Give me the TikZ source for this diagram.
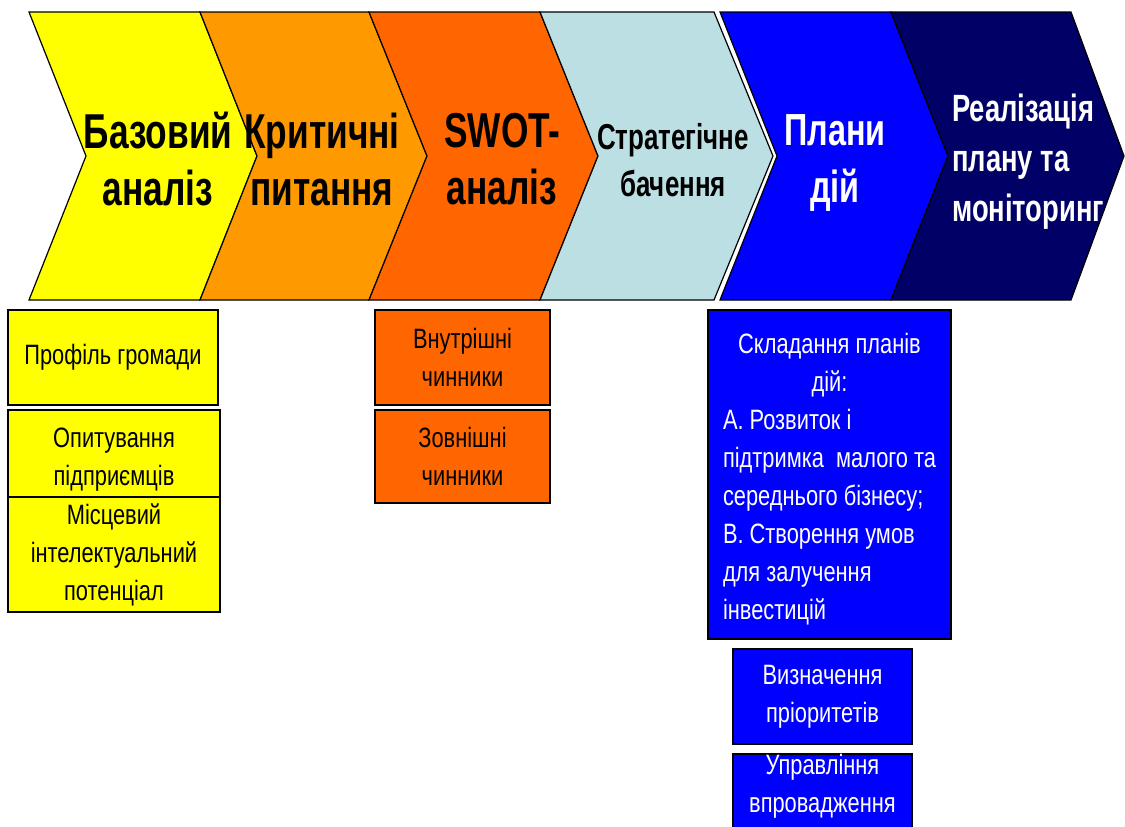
\documentclass[tikz,border=0pt]{standalone}
\usepackage{fontspec}
\setmainfont{Liberation Sans}[FakeStretch=0.78]
\newfontfamily\headfont{Liberation Sans}[FakeStretch=0.72]
\definecolor{stageYellow}{HTML}{FFFF00}
\definecolor{stageAmber}{HTML}{FF9900}
\definecolor{stageOrange}{HTML}{FF6600}
\definecolor{stageIce}{HTML}{BBDFE3}
\definecolor{stageBlue}{HTML}{0000FF}
\definecolor{stageNavy}{HTML}{000066}

\begin{document}
\begin{tikzpicture}[x=1pt, y=-1pt]
\tikzstyle{stage} = [draw=black, line width=1.2pt, line join=miter]
\tikzstyle{stageText} = [font=\headfont\bfseries\fontsize{49}{57}\selectfont, align=center, inner sep=0pt]
\tikzstyle{box} = [rectangle, draw=black, line width=1.5pt, font=\fontsize{28}{38}\selectfont, align=center, inner sep=0pt]
\tikzstyle{boxText} = [font=\fontsize{28}{38}\selectfont, align=center, inner sep=0pt]
\useasboundingbox (0,0) rectangle (1125,827);
\fill[white] (0,0) rectangle (1125,827);
\clip (0,0) rectangle (1125,827);
% stages
\filldraw[stage, fill=stageYellow] (29,12) -- (200,12) -- (257,156) -- (200,300) -- (29,300) -- (86,156) -- cycle;
\filldraw[stage, fill=stageAmber] (200,12) -- (369,12) -- (427,156) -- (369,300) -- (200,300) -- (257,156) -- cycle;
\filldraw[stage, fill=stageOrange] (369,12) -- (540,12) -- (598,156) -- (540,300) -- (369,300) -- (427,156) -- cycle;
\filldraw[stage, fill=stageIce] (540,12) -- (714,12) -- (773,156) -- (714,300) -- (540,300) -- (598,156) -- cycle;
\filldraw[stage, fill=stageBlue] (720,12) -- (891,12) -- (948,156) -- (891,300) -- (720,300) -- (777,156) -- cycle;
\filldraw[stage, fill=stageNavy] (891,12) -- (1071,12) -- (1124,156) -- (1071,300) -- (891,300) -- (948,156) -- cycle;
\node (S1) at (158,159) [stageText] {Базовий\\аналіз};
\node (S2) at (322,159) [stageText] {Критичні\\питання};
\node (S3) at (502,159) [stageText] {SWOT-\\аналіз};
\node (S4) at (673,160) [stageText, font=\headfont\bfseries\fontsize{36}{47}\selectfont] {Стратегічне\\бачення};
\node (S5) at (835,163) [stageText, text=white, font=\headfont\bfseries\fontsize{45}{57}\selectfont] {Плани\\дій};
\node (S6) at (952,162) [stageText, text=white, anchor=west, align=left, font=\headfont\bfseries\fontsize{38}{50}\selectfont] {Реалізація\\плану та\\моніторинг};
% boxes under the stages
\node (Y1) at (113,357.5) [box, fill=stageYellow, minimum width=210, minimum height=95] {Профіль громади};
\node (Y2) at (114,460) [box, fill=stageYellow, minimum width=212, minimum height=100] {Опитування\\підприємців};
\node (Y3) at (114,554.5) [box, fill=stageYellow, minimum width=212, minimum height=115] {Місцевий\\інтелектуальний\\потенціал};
\node (O1) at (462.5,357.5) [box, fill=stageOrange, minimum width=175, minimum height=95] {Внутрішні\\чинники};
\node (O2) at (462.5,456.5) [box, fill=stageOrange, minimum width=175, minimum height=93] {Зовнішні\\чинники};
\node (P1) at (829.5,474.5) [box, fill=stageBlue, minimum width=243, minimum height=329] {};
\node (P1t) at (829.5,479) [boxText, text=white, text width=213, align=flush left] {{\centering Складання планів\\дій:\par}А. Розвиток і\\\mbox{підтримка\ \ малого та}\\середнього бізнесу;\\В. Створення умов\\для залучення\\інвестицій};
\node (P2) at (822.5,696.5) [box, fill=stageBlue, text=white, minimum width=179, minimum height=95] {Визначення\\пріоритетів};
\node (P3) at (822.5,800) [box, fill=stageBlue, minimum width=179, minimum height=92] {};
\node (P3t) at (822.5,786) [boxText, text=white] {Управління\\впровадження};
\end{tikzpicture}
\end{document}
